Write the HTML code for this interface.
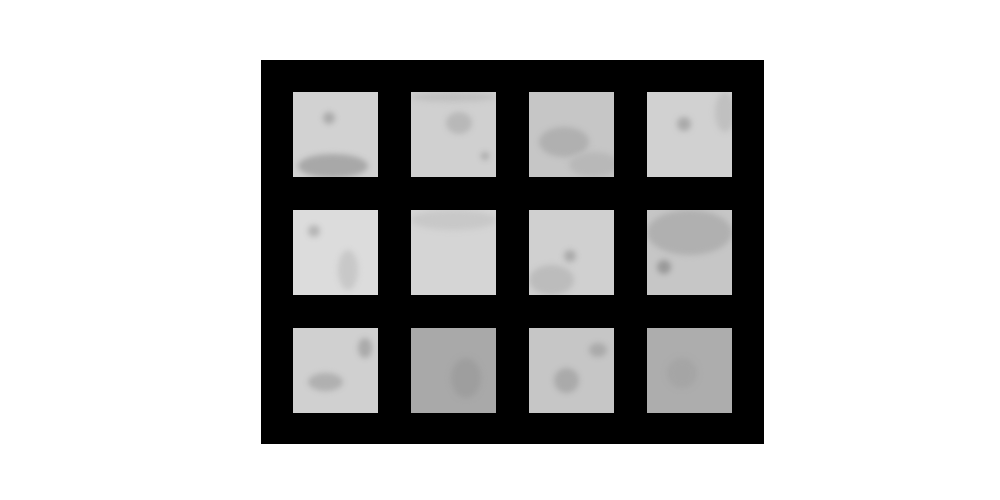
<!DOCTYPE html>
<html><head><meta charset="utf-8"><style>
body{margin:0;width:1000px;height:500px;background:#fff;overflow:hidden;font-family:"Liberation Sans",sans-serif}
#frame{position:absolute;left:261px;top:60px;width:503px;height:384px;background:#000}
.tile{position:absolute;width:85px;height:85px;overflow:hidden}
.b{position:absolute;border-radius:50%;filter:blur(3px)}
</style></head><body>
<div id="frame"></div>
<script>
const colors=[["#d2d2d2","#d0d0d0","#c6c6c6","#d1d1d1"],["#dcdcdc","#d5d5d5","#d0d0d0","#c6c6c6"],["#d0d0d0","#a9a9a9","#c6c6c6","#adadad"]];
const blobs={"0,0":[[30,20,12,12,"#aaa"],[5,62,70,24,"#a8a8a8"]],"0,1":[[35,20,26,22,"#b8b8b8"],[70,60,8,8,"#aaa"],[0,0,85,10,"#c0c0c0"]],"0,2":[[10,35,50,30,"#b0b0b0"],[40,60,50,25,"#b8b8b8"]],"0,3":[[30,25,14,14,"#aaa"],[68,0,20,40,"#c0c0c0"]],"1,0":[[15,15,12,12,"#b5b5b5"],[45,40,20,40,"#c8c8c8"]],"1,1":[[0,0,85,20,"#c8c8c8"]],"1,2":[[0,55,45,30,"#bcbcbc"],[35,40,12,12,"#aaa"]],"1,3":[[0,0,85,45,"#b0b0b0"],[10,50,14,14,"#999"]],"2,0":[[65,10,14,20,"#aaa"],[15,45,35,18,"#b0b0b0"]],"2,1":[[40,30,30,40,"#9e9e9e"]],"2,2":[[25,40,25,25,"#aaa"],[60,15,18,14,"#aaa"]],"2,3":[[20,30,30,30,"#a5a5a5"]]};
const f=document.getElementById('frame');
for(let r=0;r<3;r++)for(let c=0;c<4;c++){
 const t=document.createElement('div');
 t.className='tile';
 
 
 t.style.left=(32+c*118)+'px';t.style.top=(32+r*118)+'px';t.style.background=colors[r][c];
 (blobs[r+','+c]||[]).forEach(b=>{const d=document.createElement('div');d.className='b';d.style.left=b[0]+'px';d.style.top=b[1]+'px';d.style.width=b[2]+'px';d.style.height=b[3]+'px';d.style.background=b[4];t.appendChild(d);});
 f.appendChild(t);
}
</script>
</body></html>
